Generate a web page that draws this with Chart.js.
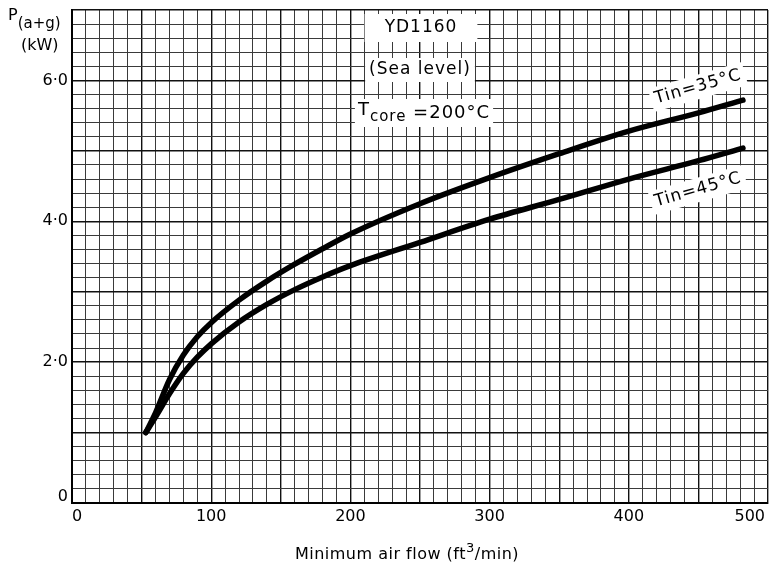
<!DOCTYPE html>
<html>
<head>
<meta charset="utf-8">
<script src="https://cdn.jsdelivr.net/npm/chart.js@4.4.1/dist/chart.umd.min.js"></script>
<style>
  body { margin: 0; background: #fff; }
</style>
</head>
<body>
<canvas id="chart" width="769" height="569"></canvas>
<script>
// values (air flow ft3/min -> P(a+g) kW)
const airFlow35 = [53, 60, 70, 80, 90, 100, 120, 140, 160, 180, 200, 250, 300, 350, 400, 450, 482];
const power35   = [1.0, 1.28, 1.75, 2.10, 2.36, 2.56, 2.88, 3.15, 3.39, 3.61, 3.82, 4.25, 4.62, 4.96, 5.28, 5.54, 5.72];
const airFlow45 = [53, 60, 70, 80, 90, 100, 120, 140, 160, 180, 200, 250, 300, 350, 400, 450, 482];
const power45   = [1.0, 1.22, 1.55, 1.84, 2.07, 2.26, 2.57, 2.82, 3.03, 3.21, 3.37, 3.70, 4.03, 4.31, 4.60, 4.86, 5.04];
const xTicks = [0, 100, 200, 300, 400, 500];
const yTicks = [0, 2, 4, 6];

const FONT = '"DejaVu Sans", sans-serif';

function toPoints(xs, ys) {
    return xs.map((x, i) => ({ x: x, y: ys[i] }));
}

// draws a run of text pieces (for sub/superscripts), returns total width
function measureParts(ctx, parts) {
    let w = 0;
    parts.forEach(p => { ctx.font = p.font; w += ctx.measureText(p.t).width; });
    return w;
}

function drawParts(ctx, parts, x, y, align) {
    const w = measureParts(ctx, parts);
    let cx = align === 'center' ? x - w / 2 : (align === 'right' ? x - w : x);
    parts.forEach(p => {
        ctx.font = p.font;
        ctx.fillText(p.t, cx, y + (p.dy || 0));
        cx += ctx.measureText(p.t).width;
    });
    return w;
}

function boxedText(ctx, parts, x, y, padX, h) {
    const w = measureParts(ctx, parts);
    ctx.fillStyle = '#fff';
    ctx.fillRect(x - w / 2 - padX, y - h / 2, w + padX * 2, h);
    ctx.fillStyle = '#000';
    drawParts(ctx, parts, x, y, 'center');
}

const paperPlugin = {
    id: 'paper',
    beforeDraw(chart) {
        const ctx = chart.ctx;
        ctx.save();
        ctx.fillStyle = '#fff';
        ctx.fillRect(0, 0, chart.width, chart.height);
        ctx.restore();
    },
    beforeDatasetsDraw(chart) {
        const ctx = chart.ctx;
        const xs = chart.scales.x, ys = chart.scales.y;
        ctx.save();
        ctx.textBaseline = 'middle';
        ctx.fillStyle = '#000';

        // tick labels
        ctx.font = '16px ' + FONT;
        ctx.textAlign = 'center';
        xTicks.forEach(v => {
            const w = ctx.measureText(String(v)).width;
            let px = xs.getPixelForValue(v);
            px = v === 0 ? px + 5 : Math.min(px, chart.width - w / 2 - 4);
            ctx.fillText(String(v), px, ys.bottom + 14);
        });
        ctx.textAlign = 'right';
        yTicks.forEach(v => {
            const label = v === 0 ? '0' : v.toFixed(1).replace('.', '\u00b7');
            const py = ys.getPixelForValue(v) - (v === 0 ? 6 : 0);
            ctx.fillText(label, xs.left - 4, py);
        });

        // axis titles
        ctx.textAlign = 'left';
        drawParts(ctx, [
            { t: 'P', font: '16px ' + FONT, dy: -3 },
            { t: '(a+g)', font: '15px ' + FONT, dy: 5 }
        ], 8, 19, 'left');
        drawParts(ctx, [{ t: '(kW)', font: '16px ' + FONT }], 21, 46, 'left');
        ctx.letterSpacing = '0.5px';
        drawParts(ctx, [
            { t: 'Minimum air flow (ft', font: '16px ' + FONT },
            { t: '3', font: '13px ' + FONT, dy: -6 },
            { t: '/min)', font: '16px ' + FONT }
        ], 407, 555, 'center');

        // notes with cleared paper behind
        ctx.letterSpacing = '1px';
        boxedText(ctx, [{ t: 'YD1160', font: '17px ' + FONT }], 421, 28, 20, 28);
        boxedText(ctx, [{ t: '(Sea level)', font: '17px ' + FONT }], 420, 70, 4, 24);
        boxedText(ctx, [
            { t: 'T', font: '18px ' + FONT, dy: -3 },
            { t: 'core', font: '15px ' + FONT, dy: 4 },
            { t: ' =200\u00b0C', font: '18px ' + FONT }
        ], 424, 113, 3, 28);

        [['Tin=35\u00b0C', 698, 87], ['Tin=45\u00b0C', 698, 190]].forEach(([t, x, y]) => {
            ctx.save();
            ctx.translate(x, y);
            ctx.rotate(-16 * Math.PI / 180);
            boxedText(ctx, [{ t: t, font: '17px ' + FONT }], 0, 0, 4, 24);
            ctx.restore();
        });
        ctx.restore();
    }
};

const isMajorX = v => Math.abs(v % 50) < 1e-6;
const isMajorY = v => Math.abs(v - Math.round(v)) < 1e-6;

new Chart(document.getElementById('chart'), {
    type: 'scatter',
    data: {
        datasets: [{
            label: 'Tin=35°C',
            data: toPoints(airFlow35, power35),
            showLine: true,
            borderColor: '#000',
            borderWidth: 5.5,
            borderCapStyle: 'round',
            pointRadius: 0,
            cubicInterpolationMode: 'monotone'
        }, {
            label: 'Tin=45°C',
            data: toPoints(airFlow45, power45),
            showLine: true,
            borderColor: '#000',
            borderWidth: 5.5,
            borderCapStyle: 'round',
            pointRadius: 0,
            cubicInterpolationMode: 'monotone'
        }]
    },
    options: {
        responsive: false,
        animation: false,
        layout: { padding: { left: 72, right: 1, top: 10, bottom: 66 } },
        plugins: {
            legend: { display: false },
            tooltip: { enabled: false }
        },
        scales: {
            x: {
                type: 'linear',
                min: 0,
                max: 500,
                ticks: { display: false, stepSize: 10, maxTicksLimit: 100 },
                grid: {
                    drawTicks: false,
                    color: c => isMajorX(c.tick.value) ? '#111' : '#3a3a3a',
                    lineWidth: c => isMajorX(c.tick.value) ? 1.4 : 1
                },
                border: { color: '#000', width: 2 }
            },
            y: {
                min: 0,
                max: 7,
                ticks: { display: false, stepSize: 0.2, maxTicksLimit: 100 },
                grid: {
                    drawTicks: false,
                    color: c => isMajorY(c.tick.value) ? '#111' : '#3a3a3a',
                    lineWidth: c => isMajorY(c.tick.value) ? 1.4 : 1
                },
                border: { color: '#000', width: 2 }
            }
        }
    },
    plugins: [paperPlugin]
});
</script>
</body>
</html>
